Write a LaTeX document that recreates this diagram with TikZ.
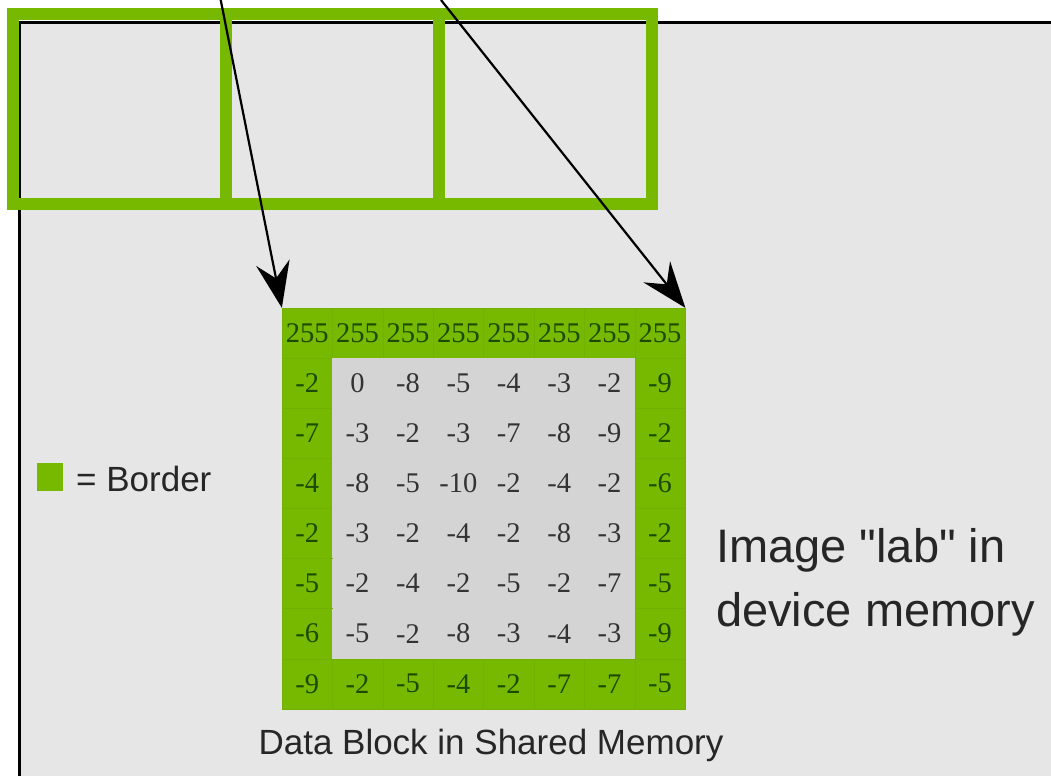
\documentclass[tikz,border=0pt]{standalone}
\usepackage{fontspec}
\setmainfont{Liberation Serif}
\newfontfamily\labelfont{Liberation Sans}
\usepackage{xcolor}
\usepackage{tikz}
\usetikzlibrary{arrows.meta,positioning,calc}

\definecolor{brdgreen}{HTML}{76B900}
\definecolor{brdtext}{HTML}{1E4A00}
\definecolor{imgbg}{HTML}{E6E6E6}
\definecolor{shmgray}{HTML}{D4D4D4}

\begin{document}
\begin{tikzpicture}[
    x=1pt, y=-1pt,
    brdcell/.style = {minimum width=50.4pt, minimum height=50.1pt, inner sep=0pt,
                      fill=brdgreen, draw=brdgreen!96!black, line width=0.3pt,
                      text=brdtext, font=\fontsize{28.5}{28.5}\selectfont},
    incell/.style  = {minimum width=50.4pt, minimum height=50.1pt, inner sep=0pt,
                      fill=shmgray, text=black!80, font=\fontsize{28.5}{28.5}\selectfont},
    blockline/.style = {draw=brdgreen, line width=12pt},
    arr/.style = {line width=2.2pt, -{Stealth[length=46pt,width=34pt,inset=16pt]}},
    lbl/.style = {inner sep=0pt, text=black!85}
  ]
  \useasboundingbox (0,0) rectangle (1051,776);
  \fill[white] (0,0) rectangle (1051,776);

  % image in device memory
  \fill[imgbg] (19,23) rectangle (1051,776);
  \draw[line width=3pt] (19,776) -- (19,23) -- (1051,23);

  % blocks with borders
  \draw[blockline] (13,14) rectangle (652,204);
  \draw[blockline] (226,14) -- (226,204);
  \draw[blockline] (439,14) -- (439,204);

  % shared memory block
  \foreach \row [count=\r] in {
      {255,255,255,255,255,255,255,255},
      {-2,0,-8,-5,-4,-3,-2,-9},
      {-7,-3,-2,-3,-7,-8,-9,-2},
      {-4,-8,-5,-10,-2,-4,-2,-6},
      {-2,-3,-2,-4,-2,-8,-3,-2},
      {-5,-2,-4,-2,-5,-2,-7,-5},
      {-6,-5,-2,-8,-3,-4,-3,-9},
      {-9,-2,-5,-4,-2,-7,-7,-5}} {
    \foreach \v [count=\c] in \row {
      \pgfmathtruncatemacro\edge{(\r==1)||(\r==8)||(\c==1)||(\c==8)}
      \ifnum\edge=1 \def\sty{brdcell}\else\def\sty{incell}\fi
      \node[\sty] (c-\r-\c) at ({282+50.4*(\c-0.5)},{308+50.1*(\r-0.5)}) {\v};
    }
  }

  % arrows
  \coordinate (from1) at (220.7,0);
  \coordinate (from2) at (441,0);
  \draw[arr] (from1) -- (c-1-1.north west);
  \draw[arr] (from2) -- (c-1-8.north east);

  % labels
  \node[minimum width=26pt, minimum height=28pt, inner sep=0pt, fill=brdgreen] (key) at (50,477) {};
  \node[lbl, anchor=west, font=\labelfont\fontsize{35}{40}\selectfont] (keytxt) at (76,479) {= Border};
  \node[lbl, font=\labelfont\fontsize{35}{40}\selectfont] (cap) at (491,745) {Data Block in Shared Memory};
  \node[lbl, anchor=west, align=left, font=\labelfont\fontsize{47}{64}\selectfont] (img) at (716,582)
    {Image "lab" in\\device memory};
\end{tikzpicture}
\end{document}
